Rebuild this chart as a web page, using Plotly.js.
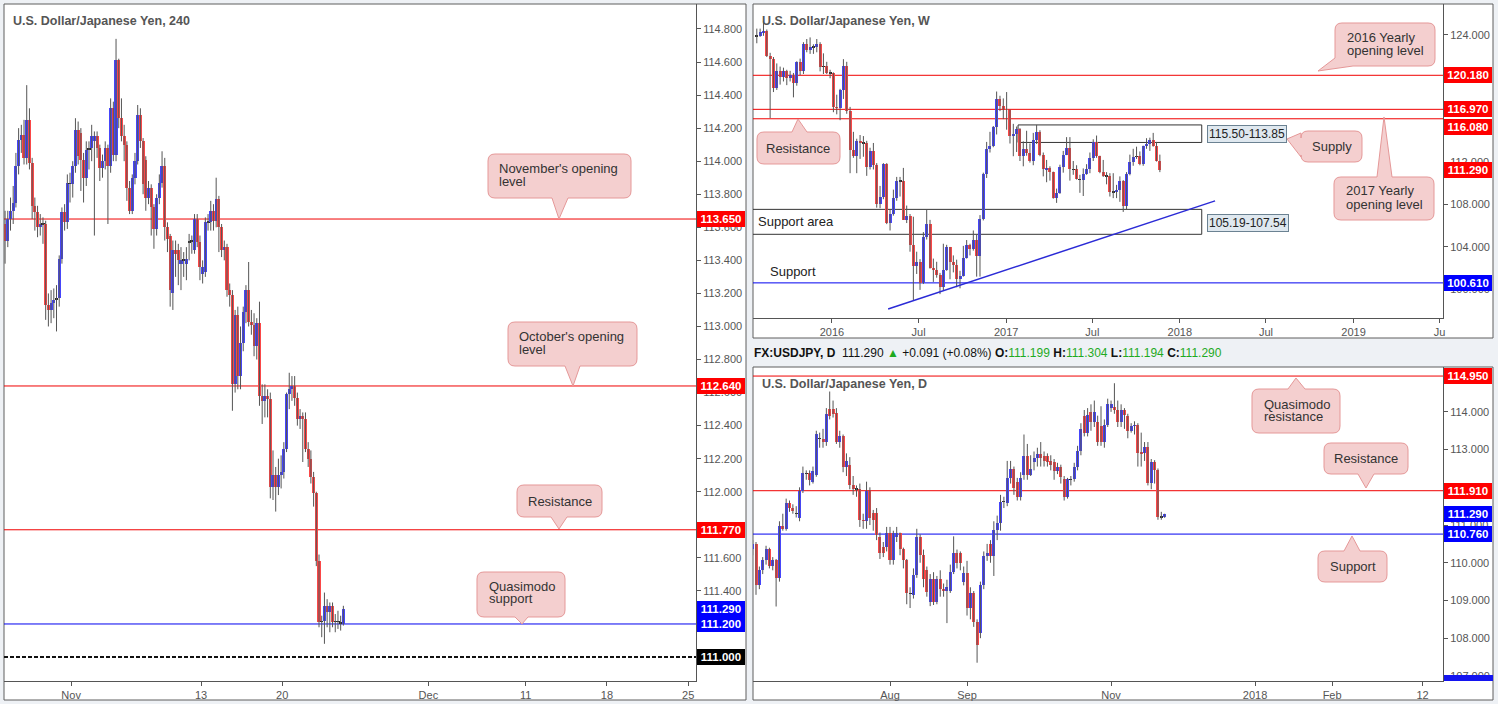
<!DOCTYPE html>
<html><head><meta charset="utf-8">
<script src="https://cdn.plot.ly/plotly-3.0.1.min.js"></script>
<style>html,body{margin:0;padding:0;background:#eef1f5;}#chart{width:1498px;height:704px;}</style>
</head><body><div id="chart"></div>
<script>
// ---------------- 4H (240) data ----------------
const h4Open  = [113.62,113.52,113.65,113.70,113.75,113.97,114.13,114.16,114.02,114.25,113.99,113.73,113.69,113.60,113.62,113.62,113.13,113.10,113.14,113.16,113.17,113.41,113.69,113.63,113.87,113.86,113.97,114.19,114.17,114.01,113.90,114.07,114.08,114.12,114.15,114.08,113.96,114.00,114.08,113.97,114.32,114.04,114.61,114.26,114.15,114.10,113.84,113.70,113.90,114.00,114.28,114.12,114.01,113.78,113.84,113.72,113.59,113.78,113.87,113.97,113.60,113.55,113.20,113.46,113.46,113.38,113.40,113.38,113.51,113.51,113.46,113.65,113.51,113.32,113.33,113.63,113.63,113.70,113.64,113.77,113.60,113.46,113.48,113.22,113.19,112.65,113.07,112.70,112.90,113.09,113.22,113.03,113.01,112.88,113.02,112.58,112.55,112.58,112.56,112.03,112.10,112.03,112.10,112.12,112.26,112.59,112.62,112.64,112.57,112.44,112.46,112.44,112.26,112.20,112.09,111.99,111.58,111.21,111.22,111.31,111.27,111.31,111.21,111.22,111.21,111.20];
const h4High  = [113.70,113.70,113.78,113.85,114.05,114.20,114.22,114.25,114.46,114.32,114.02,113.78,113.73,113.68,113.66,113.64,113.20,113.22,113.23,113.25,113.43,113.72,113.74,113.92,113.93,114.00,114.26,114.24,114.20,114.05,114.12,114.12,114.22,114.18,114.18,114.10,114.04,114.12,114.10,114.38,114.36,114.74,114.62,114.38,114.22,114.12,113.88,113.92,114.05,114.34,114.32,114.14,114.03,113.88,113.86,113.74,113.80,113.92,114.06,114.02,113.63,113.56,113.52,113.52,113.50,113.48,113.45,113.48,113.56,113.55,113.68,113.68,113.55,113.40,113.66,113.68,113.76,113.74,113.90,113.79,113.62,113.52,113.50,113.26,113.22,113.10,113.12,113.00,113.12,113.25,113.39,113.10,113.08,113.05,113.15,112.65,112.65,112.62,112.60,112.25,112.15,112.20,112.22,112.30,112.60,112.72,112.70,112.70,112.60,112.50,112.48,112.48,112.30,112.25,112.12,112.00,111.62,111.25,111.39,111.35,111.33,111.33,111.26,111.28,111.25,111.31];
const h4Low   = [113.38,113.48,113.58,113.62,113.72,113.92,114.05,113.98,113.98,113.95,113.65,113.58,113.54,113.55,113.50,113.04,113.00,113.02,113.05,112.97,113.12,113.38,113.58,113.59,113.75,113.78,113.93,113.98,113.82,113.75,113.85,113.95,114.00,113.55,114.02,113.88,113.90,113.95,113.62,113.93,114.00,114.00,114.20,114.12,114.00,113.76,113.68,113.68,113.86,113.98,114.08,113.80,113.70,113.74,113.55,113.47,113.55,113.74,113.84,113.52,113.45,113.12,113.10,113.30,113.25,113.22,113.30,113.28,113.40,113.44,113.44,113.48,113.28,113.26,113.30,113.58,113.58,113.58,113.60,113.45,113.42,113.40,113.18,113.12,112.49,112.60,112.62,112.62,112.85,113.02,113.00,112.95,112.82,112.80,112.52,112.41,112.45,112.45,111.96,111.95,111.88,111.98,112.02,112.08,112.24,112.50,112.55,112.52,112.40,112.38,112.18,112.24,112.15,112.05,111.91,111.55,111.18,111.12,111.08,111.18,111.15,111.18,111.15,111.17,111.16,111.19];
const h4Close = [113.52,113.65,113.70,113.75,113.97,114.13,114.16,114.02,114.25,113.99,113.73,113.69,113.60,113.62,113.62,113.13,113.10,113.14,113.16,113.17,113.41,113.69,113.63,113.87,113.86,113.97,114.19,114.03,114.01,113.90,114.07,114.08,114.15,114.15,114.08,113.96,114.00,114.08,113.97,114.32,114.04,114.61,114.26,114.15,114.10,113.84,113.70,113.90,114.00,114.28,114.12,113.86,113.78,113.84,113.72,113.59,113.78,113.87,113.97,113.60,113.53,113.22,113.46,113.44,113.40,113.40,113.40,113.41,113.51,113.52,113.65,113.51,113.36,113.36,113.63,113.63,113.70,113.64,113.77,113.60,113.46,113.48,113.22,113.19,112.65,113.07,112.70,112.90,113.09,113.22,113.03,113.01,112.88,113.02,112.58,112.55,112.58,112.56,112.03,112.10,112.03,112.10,112.12,112.26,112.59,112.62,112.64,112.57,112.44,112.46,112.44,112.26,112.20,112.09,111.99,111.58,111.21,111.22,111.31,111.27,111.31,111.21,111.22,111.21,111.20,111.29];
const h4TickVals = [24.4, 72.4, 102.4, 156.4, 192.4, 222.4, 252.4];
const h4TickText = ['Nov', '13', '20', 'Dec', '11', '18', '25'];
const h4YTicks = [111.4,111.6,112.0,112.2,112.4,112.6,112.8,113.0,113.2,113.4,113.6,113.8,114.0,114.2,114.4,114.6,114.8];
const h4RedLevels = [113.65, 112.64, 111.77];
const h4BlueLevels = [111.20];
const h4DashLevel = 111.00;
const h4Last = 111.29;

// ---------------- Weekly data ----------------
const wkDates = ['2015-07-27','2015-08-03','2015-08-10','2015-08-17','2015-08-24','2015-08-31','2015-09-07','2015-09-14','2015-09-21','2015-09-28','2015-10-05','2015-10-12','2015-10-19','2015-10-26','2015-11-02','2015-11-09','2015-11-16','2015-11-23','2015-11-30','2015-12-07','2015-12-14','2015-12-21','2015-12-28',
'2016-01-04','2016-01-11','2016-01-18','2016-01-25','2016-02-01','2016-02-08','2016-02-15','2016-02-22','2016-02-29','2016-03-07','2016-03-14','2016-03-21','2016-03-28','2016-04-04','2016-04-11','2016-04-18','2016-04-25','2016-05-02','2016-05-09','2016-05-16','2016-05-23','2016-05-30','2016-06-06','2016-06-13','2016-06-20','2016-06-27','2016-07-04','2016-07-11','2016-07-18','2016-07-25','2016-08-01','2016-08-08','2016-08-15','2016-08-22','2016-08-29','2016-09-05','2016-09-12','2016-09-19','2016-09-26','2016-10-03','2016-10-10','2016-10-17','2016-10-24','2016-10-31','2016-11-07','2016-11-14','2016-11-21','2016-11-28','2016-12-05','2016-12-12','2016-12-19','2016-12-26',
'2017-01-02','2017-01-09','2017-01-16','2017-01-23','2017-01-30','2017-02-06','2017-02-13','2017-02-20','2017-02-27','2017-03-06','2017-03-13','2017-03-20','2017-03-27','2017-04-03','2017-04-10','2017-04-17','2017-04-24','2017-05-01','2017-05-08','2017-05-15','2017-05-22','2017-05-29','2017-06-05','2017-06-12','2017-06-19','2017-06-26','2017-07-03','2017-07-10','2017-07-17','2017-07-24','2017-07-31','2017-08-07','2017-08-14','2017-08-21','2017-08-28','2017-09-04','2017-09-11','2017-09-18','2017-09-25','2017-10-02','2017-10-09','2017-10-16','2017-10-23','2017-10-30','2017-11-06','2017-11-13','2017-11-20'];
const wkOpen  = [123.85,123.88,124.22,124.32,122.00,121.70,119.00,120.60,120.00,120.55,119.90,120.25,119.45,121.40,120.60,123.15,122.60,122.80,122.85,123.15,121.00,121.05,120.40,120.35,117.20,117.05,118.75,121.10,116.85,113.15,112.55,113.95,113.80,113.80,111.55,113.00,111.70,108.05,108.75,111.80,106.30,107.10,108.65,110.20,110.25,106.55,106.95,104.15,102.20,102.55,100.60,104.90,106.15,102.05,101.80,101.35,100.20,101.85,103.95,102.60,102.30,101.00,101.30,102.95,104.20,103.80,104.70,103.10,106.65,110.90,113.20,113.55,115.30,117.90,117.25,117.00,116.90,114.50,114.60,115.10,112.60,113.20,112.90,112.10,114.05,114.80,112.70,111.30,111.40,111.05,108.65,109.05,111.50,112.70,113.35,111.30,111.30,110.40,110.35,110.90,111.30,112.40,113.90,112.55,111.10,110.70,110.70,109.15,109.20,109.35,110.25,107.85,110.85,112.00,112.50,112.55,111.85,113.50,113.70,114.05,113.55,112.10];
const wkHigh  = [124.58,124.58,125.30,124.50,122.30,121.90,121.30,121.00,120.90,120.70,120.60,120.40,121.50,121.75,123.30,123.60,123.75,123.10,123.60,123.30,122.25,121.45,120.70,120.45,118.35,118.90,121.70,121.45,117.20,114.85,114.20,114.55,114.45,114.00,113.35,113.80,111.90,109.75,111.90,111.90,107.50,109.40,110.60,110.60,111.45,107.90,107.10,106.85,103.55,102.85,105.40,107.50,106.55,102.90,102.60,101.55,104.30,104.20,104.00,103.20,102.80,101.75,104.10,104.65,104.30,105.55,105.20,107.00,111.00,113.90,114.85,115.40,118.65,118.25,118.00,118.60,116.95,115.60,115.35,115.20,113.95,114.95,113.75,114.75,115.50,115.00,112.90,112.20,111.60,111.10,109.50,111.75,113.05,114.35,114.35,112.10,111.70,110.80,111.40,111.80,112.90,114.15,114.50,112.60,112.20,111.05,110.95,110.95,109.85,110.65,110.30,111.05,112.70,113.25,113.45,113.00,113.55,114.25,114.30,114.75,113.90,112.70];
const wkLow   = [123.20,123.80,123.90,121.90,116.15,118.60,118.80,119.30,119.60,119.25,119.60,118.10,119.20,120.20,120.30,122.35,122.20,122.20,122.35,120.55,120.30,120.30,119.90,116.70,116.50,115.95,117.95,116.55,110.95,112.40,110.95,112.30,112.50,110.70,111.30,111.30,107.70,107.65,108.50,106.15,105.55,106.95,108.35,108.75,106.55,106.25,103.55,99.00,101.45,99.95,100.50,104.70,101.95,100.70,101.10,99.55,99.90,101.75,100.95,101.60,100.20,100.10,101.20,102.90,103.20,103.65,101.20,101.20,106.50,110.50,112.90,113.40,114.60,116.80,116.05,115.05,113.75,112.55,112.95,112.10,111.60,112.60,111.95,111.70,113.70,112.55,110.65,110.10,110.25,108.55,108.15,109.00,111.00,112.65,110.25,110.80,110.35,109.10,108.80,110.80,110.95,112.10,112.40,110.95,110.60,109.90,108.75,108.60,108.60,108.25,107.30,107.50,110.75,111.65,112.30,111.70,111.65,113.25,113.05,113.45,112.05,111.05];
const wkClose = [123.88,124.22,124.32,122.00,121.70,119.00,120.60,120.00,120.55,119.90,120.25,119.45,121.40,120.60,123.15,122.60,122.80,122.85,123.15,121.00,121.05,120.40,120.35,117.20,117.05,118.75,121.10,116.85,113.15,112.55,113.95,113.80,113.80,111.55,113.00,111.70,108.05,108.75,111.80,106.30,107.10,108.65,110.20,110.25,106.55,106.95,104.15,102.20,102.55,100.60,104.90,106.15,102.05,101.80,101.35,100.20,101.85,103.95,102.60,102.30,101.00,101.30,102.95,104.20,103.80,104.70,103.10,106.65,110.90,113.20,113.55,115.30,117.90,117.25,117.00,116.90,114.50,114.60,115.10,112.60,113.20,112.90,112.10,114.05,114.80,112.70,111.30,111.40,111.05,108.65,109.05,111.50,112.70,113.35,111.30,111.30,110.40,110.35,110.90,111.30,112.40,113.90,112.55,111.10,110.70,110.70,109.15,109.20,109.35,110.25,107.85,110.85,112.00,112.50,112.55,111.85,113.50,113.70,114.05,113.55,112.10,111.29];
const wkTickVals = ['2016-01-01','2016-07-01','2017-01-01','2017-07-01','2018-01-01','2018-07-01','2019-01-01','2019-07-01'];
const wkTickText = ['2016','Jul','2017','Jul','2018','Jul','2019','Ju'];
const wkYTicks = [100,104,108,112,124];
const wkRedLevels = [120.18, 116.97, 116.08];
const wkBlueLevels = [100.61];
const wkSupply = [113.85, 115.50];
const wkSupportArea = [105.19, 107.54];
const wkTrend = {x: ['2016-04-28', '2018-03-16'], y: [98.15, 108.34]};

// ---------------- Daily data (x = weekday index, 0 = 1 Aug 2017) ----------------
const dFirstIndex = -41;
const dOpen  = [110.36,110.50,109.41,109.81,110.06,110.36,109.92,110.07,109.59,110.98,110.89,111.58,111.44,111.31,111.18,111.89,112.37,112.37,112.15,112.33,113.30,113.28,113.21,114.07,114.07,113.98,113.21,113.35,112.55,112.60,112.06,111.95,111.95,111.14,111.11,111.91,111.31,111.31,110.69,110.43,110.41,110.78,110.06,110.69,110.78,110.36,110.06,109.19,109.15,109.68,110.68,110.21,109.81,108.97,109.56,108.97,109.56,109.30,109.26,109.25,109.76,110.25,110.25,109.50,109.74,108.81,109.19,108.44,108.15,109.41,110.18,110.50,110.18,110.87,111.06,111.62,111.59,112.24,112.48,112.15,111.75,112.33,112.83,112.33,112.66,112.77,112.89,112.83,112.83,112.71,112.66,112.44,112.53,112.21,111.75,112.21,112.21,112.55,112.95,113.89,113.45,114.01,113.72,113.74,113.63,113.19,113.66,114.10,114.12,114.05,113.72,114.05,113.89,113.50,113.63,113.66,112.93,112.90,113.06,112.11,112.66,112.46,111.22,111.20];
const dHigh  = [110.60,110.55,109.90,110.15,110.45,110.40,110.15,110.10,111.10,111.30,111.70,111.65,111.55,111.50,112.00,112.55,112.45,112.45,112.55,113.50,113.45,113.55,114.10,114.54,114.30,114.10,113.50,113.40,112.90,112.80,112.30,112.05,112.10,111.30,112.15,112.00,111.40,111.45,110.80,110.55,110.95,110.95,110.85,110.95,110.80,110.40,110.10,109.35,109.85,110.90,110.75,110.35,109.90,109.70,109.75,109.65,109.80,109.45,109.55,109.95,110.70,110.35,110.30,109.90,110.05,109.35,109.25,108.50,109.50,110.30,110.50,110.60,111.10,111.25,111.80,111.75,112.70,112.70,112.55,112.25,112.40,113.40,113.15,112.85,112.95,113.05,113.20,112.95,112.90,112.85,112.75,112.65,112.60,112.30,112.25,112.30,112.65,113.10,113.70,114.05,114.10,114.20,114.30,113.90,114.15,113.80,114.35,114.30,114.76,114.30,114.20,114.10,113.95,113.70,113.75,113.70,113.45,113.20,113.20,112.75,112.72,112.50,111.35,111.30];
const dLow   = [110.20,109.15,109.30,109.70,109.95,109.85,109.80,108.84,109.50,110.85,110.85,111.35,111.30,111.20,111.10,111.85,112.20,112.05,112.10,112.28,113.05,113.05,113.10,113.80,113.85,113.15,113.05,112.40,112.30,111.95,111.80,111.75,110.95,110.90,110.90,111.00,110.85,110.60,110.10,110.15,110.30,109.95,109.95,110.55,110.20,109.85,108.90,108.80,109.05,109.60,110.00,109.35,109.10,108.85,108.88,108.90,109.10,109.10,108.40,109.20,109.70,109.85,109.80,109.40,108.60,108.50,108.30,107.35,108.00,109.30,110.05,110.00,109.65,110.60,110.85,111.45,111.50,112.10,111.80,111.65,111.65,112.20,112.20,112.30,112.45,112.55,112.55,112.55,112.55,112.45,112.20,112.35,112.10,111.65,111.70,112.05,112.15,112.45,112.85,113.35,113.35,113.50,113.60,113.10,113.10,113.05,113.60,114.00,113.95,113.60,113.60,113.55,113.30,113.45,113.40,112.55,112.55,112.70,112.05,111.95,112.10,111.14,111.14,111.19];
const dClose = [110.50,109.41,109.81,110.06,110.36,109.92,110.07,109.59,110.98,110.89,111.58,111.44,111.38,111.31,111.89,112.37,112.37,112.20,112.42,113.42,113.28,113.21,113.95,113.88,113.95,113.21,113.35,112.55,112.71,112.06,111.95,111.95,111.14,111.11,111.91,111.18,111.14,110.74,110.27,110.27,110.78,110.06,110.78,110.78,110.36,110.06,109.19,109.19,109.68,110.68,110.21,109.56,109.23,109.56,108.97,109.56,109.30,109.26,109.37,109.76,110.25,109.99,109.99,109.74,108.81,109.19,108.44,107.82,109.41,110.18,110.27,110.18,110.87,111.06,111.60,111.62,112.24,112.48,111.98,111.75,112.24,112.83,112.33,112.48,112.77,112.89,112.77,112.71,112.66,112.59,112.44,112.53,112.28,111.75,112.21,112.21,112.55,112.95,113.54,113.45,113.92,113.72,114.01,113.19,113.19,113.66,114.21,114.21,114.05,113.72,114.05,113.92,113.50,113.63,113.66,112.90,112.90,113.06,112.11,112.66,112.46,111.22,111.20,111.29];
const dTickVals = [0, 23, 66, 109, 132, 159];
const dTickText = ['Aug', 'Sep', 'Nov', '2018', 'Feb', '12'];
const dYTicks = [107,108,109,110,111,113,114];
const dRedLevels = [114.95, 111.91];
const dBlueLevels = [110.76];
const dLast = 111.29;

// header quote values
const quoteValues = ['111.290', '+0.091', '(+0.08%)', '111.199', '111.304', '111.194', '111.290'];

// ---------------- drawing helpers ----------------
const W = 1498, H = 704;
const F = 'Liberation Sans, Arial, sans-serif';
const BLUE = '#4646fa', RED = '#fa4848', DOJI = '#2a2a2a', WICK = '#555555';
const px = v => v / W, py = v => 1 - v / H;

function candles(xs, O, Hh, L, C, xa, ya, width, minH, dojiThr) {
  const wx = [], wy = [], base = [], len = [], col = [];
  for (let i = 0; i < O.length; i++) {
    wx.push(xs[i], xs[i], null); wy.push(L[i], Hh[i], null);
    const lo = Math.min(O[i], C[i]), hi = Math.max(O[i], C[i]);
    let b = lo, h = hi - lo;
    if (h < minH) { b = (lo + hi) / 2 - minH / 2; h = minH; }
    base.push(b); len.push(h);
    col.push(Math.abs(C[i] - O[i]) < dojiThr ? DOJI : (C[i] > O[i] ? BLUE : RED));
  }
  return [
    {type: 'scatter', mode: 'lines', x: wx, y: wy, xaxis: xa, yaxis: ya, line: {color: WICK, width: 1}, hoverinfo: 'skip', showlegend: false},
    {type: 'bar', x: xs, y: len, base: base, xaxis: xa, yaxis: ya, width: width, marker: {color: col, line: {width: 0}}, hoverinfo: 'skip', showlegend: false}
  ];
}

const h4X = h4Open.map((_, i) => i);
const dX = dOpen.map((_, i) => i + dFirstIndex);
const WEEK_MS = 7 * 24 * 3600 * 1000;

const traces = [].concat(
  candles(h4X, h4Open, h4High, h4Low, h4Close, 'x', 'y', 1.15, 0.012, 0.015),
  candles(wkDates, wkOpen, wkHigh, wkLow, wkClose, 'x2', 'y2', WEEK_MS * 0.9, 0.15, 0.08),
  candles(dX, dOpen, dHigh, dLow, dClose, 'x3', 'y3', 0.9, 0.04, 0.03)
);

const tickFont = {family: F, size: 11, color: '#555'};
function xAxis(domain, anchor, extra) {
  return Object.assign({domain, anchor, showgrid: false, zeroline: false, showline: true, linecolor: '#555', linewidth: 1,
    ticks: 'outside', ticklen: 4, tickcolor: '#555', tickfont: tickFont, fixedrange: true}, extra);
}
function yAxis(domain, anchor, extra) {
  return Object.assign({domain, anchor, side: 'right', showgrid: false, zeroline: false, showline: true, linecolor: '#555', linewidth: 1,
    ticks: 'outside', ticklen: 4, tickcolor: '#555', tickfont: tickFont, tickformat: '.3f', fixedrange: true}, extra);
}

const shapes = [];
// panel backgrounds / borders
[[4, 4, 746, 700], [753, 4, 1493, 338], [753, 367, 1493, 700]].forEach(r => shapes.push({
  type: 'rect', xref: 'paper', yref: 'paper', x0: px(r[0]), x1: px(r[2]), y0: py(r[3]), y1: py(r[1]),
  fillcolor: '#ffffff', line: {color: '#5f5f5f', width: 1}, layer: 'below'}));

function hline(v, xa, ya, color, width, dash) {
  shapes.push({type: 'line', xref: xa + ' domain', yref: ya, x0: 0, x1: 1, y0: v, y1: v, line: {color, width: width || 1, dash: dash || 'solid'}, layer: 'below'});
}
h4RedLevels.forEach(v => hline(v, 'x', 'y', '#f00000'));
h4BlueLevels.forEach(v => hline(v, 'x', 'y', '#0000f0'));
hline(h4DashLevel, 'x', 'y', '#111111', 2, '4px,2px');
wkRedLevels.forEach(v => hline(v, 'x2', 'y2', '#f00000'));
wkBlueLevels.forEach(v => hline(v, 'x2', 'y2', '#0000f0'));
dRedLevels.forEach(v => hline(v, 'x3', 'y3', '#f00000'));
dBlueLevels.forEach(v => hline(v, 'x3', 'y3', '#0000f0'));

// weekly zones and trendline
shapes.push({type: 'rect', xref: 'x2', yref: 'y2', x0: '2017-01-26', x1: '2018-02-16', y0: wkSupply[0], y1: wkSupply[1], line: {color: '#333', width: 1}, fillcolor: 'rgba(0,0,0,0)', layer: 'below'});
shapes.push({type: 'rect', xref: 'x2', yref: 'y2', x0: '2015-07-10', x1: '2018-02-16', y0: wkSupportArea[0], y1: wkSupportArea[1], line: {color: '#333', width: 1}, fillcolor: 'rgba(0,0,0,0)', layer: 'below'});
shapes.push({type: 'line', xref: 'x2', yref: 'y2', x0: wkTrend.x[0], x1: wkTrend.x[1], y0: wkTrend.y[0], y1: wkTrend.y[1], line: {color: '#2b2bd6', width: 1.5}, layer: 'above'});

// callout bubbles
function P(x, y) { return px(x).toFixed(5) + ',' + py(y).toFixed(5); }
function callout(x0, y0, x1, y1, p) {
  const r = 7;
  let d = 'M' + P(x0 + r, y0);
  if (p.side === 'top') d += ' L' + P(p.a, y0) + ' L' + P(p.tx, p.ty) + ' L' + P(p.b, y0);
  d += ' L' + P(x1 - r, y0) + ' Q' + P(x1, y0) + ' ' + P(x1, y0 + r);
  d += ' L' + P(x1, y1 - r) + ' Q' + P(x1, y1) + ' ' + P(x1 - r, y1);
  if (p.side === 'bottom') d += ' L' + P(p.b, y1) + ' L' + P(p.tx, p.ty) + ' L' + P(p.a, y1);
  if (p.side === 'bl') {
    d += ' L' + P(p.b, y1) + ' L' + P(p.tx, p.ty) + ' L' + P(x0, p.a);
  } else {
    d += ' L' + P(x0 + r, y1) + ' Q' + P(x0, y1) + ' ' + P(x0, y1 - r);
  }
  if (p.side === 'left') d += ' L' + P(x0, p.b) + ' L' + P(p.tx, p.ty) + ' L' + P(x0, p.a);
  d += ' L' + P(x0, y0 + r) + ' Q' + P(x0, y0) + ' ' + P(x0 + r, y0) + ' Z';
  shapes.push({type: 'path', xref: 'paper', yref: 'paper', path: d, fillcolor: '#f4cfcf', line: {color: '#e59898', width: 1}, layer: 'above'});
}
callout(488, 154, 631, 198, {side: 'bottom', a: 552, b: 568, tx: 559, ty: 219});
callout(508, 322, 637, 366, {side: 'bottom', a: 565, b: 580, tx: 573, ty: 386});
callout(517, 485, 602, 517, {side: 'bottom', a: 551, b: 567, tx: 559, ty: 529});
callout(477, 572, 565, 617, {side: 'bottom', a: 515, b: 528, tx: 522, ty: 624});
callout(757, 132, 840, 164, {side: 'top', a: 792, b: 807, tx: 798, ty: 119});
callout(1301, 131, 1362, 162, {side: 'left', a: 133, b: 157, tx: 1287, ty: 139});
callout(1335, 23, 1435, 66, {side: 'bl', a: 58, b: 1353, tx: 1318, ty: 71});
callout(1334, 177, 1434, 220, {side: 'top', a: 1377, b: 1392, tx: 1384, ty: 117});
callout(1252, 389, 1340, 433, {side: 'top', a: 1288, b: 1305, tx: 1296, ty: 378});
callout(1324, 443, 1408, 474, {side: 'bottom', a: 1358, b: 1374, tx: 1366, ty: 488});
callout(1318, 551, 1387, 582, {side: 'top', a: 1344, b: 1360, tx: 1352, ty: 536});

// clipped blue tag at bottom of daily scale
shapes.push({type: 'rect', xref: 'paper', yref: 'paper', x0: px(1444), x1: px(1493), y0: py(681), y1: py(675), fillcolor: '#1414f0', line: {width: 0}, layer: 'above'});

const ann = [];
function txt(t, x, y, opt) {
  opt = opt || {};
  ann.push({xref: 'paper', yref: 'paper', x: px(x), y: py(y), xanchor: opt.anchor || 'left', yanchor: 'middle', text: t, showarrow: false,
    font: {family: F, size: opt.size || 13, color: opt.color || '#333', weight: opt.weight || 'normal'}, align: 'left', borderpad: 0});
}
// titles
txt('U.S. Dollar/Japanese Yen, 240', 12, 21, {size: 12.5, color: '#555', weight: 'bold'});
txt('U.S. Dollar/Japanese Yen, W', 761, 21, {size: 12.5, color: '#555', weight: 'bold'});
txt('U.S. Dollar/Japanese Yen, D', 761, 384, {size: 12.5, color: '#555', weight: 'bold'});
// header quote line
const G = '#1faa1f';
txt('<b>FX:USDJPY, D</b>  ' + quoteValues[0] + ' <span style="color:' + G + '">▲</span> ' + quoteValues[1] + ' ' + quoteValues[2] +
  ' <b>O:</b><span style="color:' + G + '">' + quoteValues[3] + '</span> <b>H:</b><span style="color:' + G + '">' + quoteValues[4] +
  '</span> <b>L:</b><span style="color:' + G + '">' + quoteValues[5] + '</span> <b>C:</b><span style="color:' + G + '">' + quoteValues[6] + '</span>',
  753, 353, {size: 12, color: '#111'});
// callout texts
txt("November's opening", 498, 168); txt('level', 498, 181);
txt("October's opening", 518, 336); txt('level', 518, 349);
txt('Resistance', 559.5, 501, {anchor: 'center'});
txt('Quasimodo', 488, 586); txt('support', 488, 598);
txt('Resistance', 798.5, 148, {anchor: 'center'});
txt('Supply', 1331.5, 146.5, {anchor: 'center'});
txt('2016 Yearly', 1346, 37); txt('opening level', 1346, 50);
txt('2017 Yearly', 1345, 191); txt('opening level', 1345, 204);
txt('Quasimodo', 1263, 404); txt('resistance', 1263, 416);
txt('Resistance', 1366, 458.5, {anchor: 'center'});
txt('Support', 1352.5, 566.5, {anchor: 'center'});
txt('Support area', 757, 221, {color: '#222'});
txt('Support', 769, 271, {color: '#222'});
// range boxes
[['115.50-113.85', 133.5], ['105.19-107.54', 223]].forEach(r => ann.push({xref: 'paper', yref: 'paper', x: px(1207), y: py(r[1]), xanchor: 'left', yanchor: 'middle',
  text: r[0], showarrow: false, font: {family: F, size: 12, color: '#222'}, bgcolor: '#dfe8ef', bordercolor: '#6b8292', borderwidth: 1, borderpad: 1}));

// price tags on the scales
function tag(v, ya, color, xpx, yshift) {
  ann.push({xref: 'paper', x: px(xpx), xanchor: 'left', yref: ya, y: v, yanchor: 'middle', yshift: yshift || 0,
    text: '<b>' + v.toFixed(3) + '</b>', showarrow: false, bgcolor: color, font: {family: F, size: 11.5, color: '#fff'},
    width: 46, height: 14, borderpad: 1, borderwidth: 0, align: 'center'});
}
h4RedLevels.forEach(v => tag(v, 'y', '#ff0000', 697));
tag(h4Last, 'y', '#0000ff', 697);
h4BlueLevels.forEach(v => tag(v, 'y', '#0000ff', 697));
tag(h4DashLevel, 'y', '#000000', 697);
tag(wkRedLevels[0], 'y2', '#ff0000', 1444);
tag(wkRedLevels[1], 'y2', '#ff0000', 1444);
tag(wkRedLevels[2], 'y2', '#ff0000', 1444, -8);
tag(h4Last, 'y2', '#ff0000', 1444);
wkBlueLevels.forEach(v => tag(v, 'y2', '#0000ff', 1444));
dRedLevels.forEach(v => tag(v, 'y3', '#ff0000', 1444));
tag(dLast, 'y3', '#0000ff', 1444);
dBlueLevels.forEach(v => tag(v, 'y3', '#0000ff', 1444));

const layout = {
  width: W, height: H, margin: {l: 0, r: 0, t: 0, b: 0}, paper_bgcolor: '#eef1f5', plot_bgcolor: 'rgba(0,0,0,0)',
  showlegend: false, barmode: 'overlay', bargap: 0,
  xaxis: xAxis([px(4), px(696)], 'y', {range: [-0.4, 255.3], tickmode: 'array', tickvals: h4TickVals, ticktext: h4TickText}),
  yaxis: yAxis([py(681), py(4)], 'x', {range: [110.855, 114.951], tickmode: 'array', tickvals: h4YTicks}),
  xaxis2: xAxis([px(753), px(1443)], 'y2', {type: 'date', range: ['2015-07-19', '2019-07-08'], tickmode: 'array', tickvals: wkTickVals, ticktext: wkTickText}),
  yaxis2: yAxis([py(318), py(4)], 'x2', {range: [97.3, 126.9], tickmode: 'array', tickvals: wkYTicks}),
  xaxis3: xAxis([px(753), px(1443)], 'y3', {range: [-40.9, 165.1], tickmode: 'array', tickvals: dTickVals, ticktext: dTickText}),
  yaxis3: yAxis([py(681), py(367)], 'x3', {range: [106.865, 115.19], tickmode: 'array', tickvals: dYTicks}),
  shapes: shapes, annotations: ann
};
Plotly.newPlot('chart', traces, layout, {staticPlot: true, displayModeBar: false});
</script>
</body></html>
